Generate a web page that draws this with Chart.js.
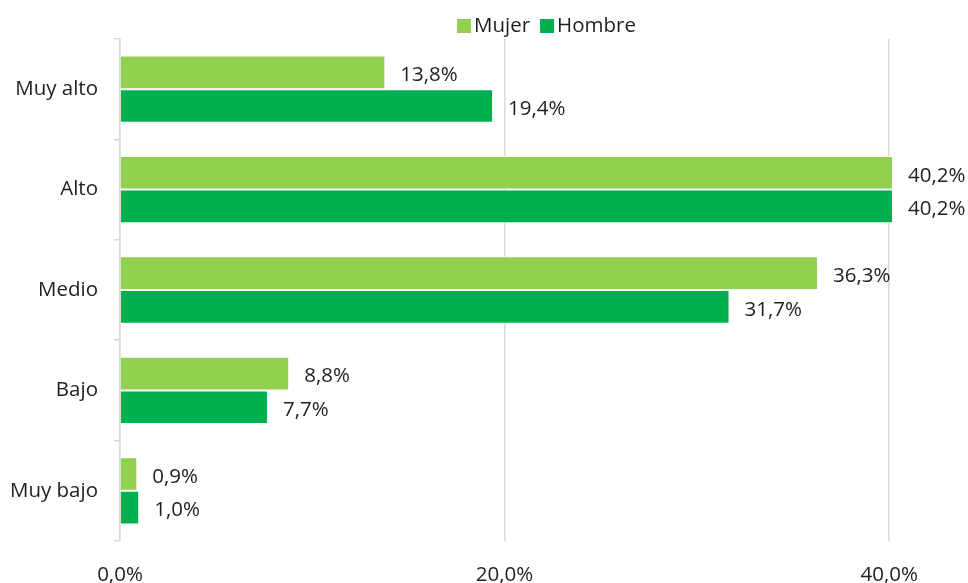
<!DOCTYPE html>
<html>
<head>
<meta charset="utf-8">
<script src="https://cdn.jsdelivr.net/npm/chart.js@4.4.1/dist/chart.umd.min.js"></script>
<style>
  html, body { margin: 0; padding: 0; background: #fff; }
  #wrap { width: 968px; height: 583px; }
</style>
</head>
<body>
<div id="wrap"><canvas id="chart" width="968" height="583"></canvas></div>
<script>
const categories = ["Muy alto", "Alto", "Medio", "Bajo", "Muy bajo"];
const seriesNames = ["Mujer", "Hombre"];
const mujer = [13.8, 40.2, 36.3, 8.8, 0.9];
const hombre = [19.4, 40.2, 31.7, 7.7, 1.0];
const xTicks = [0, 20, 40];
const colors = ["#92D050", "#00B050"];

const fontFamily = "'Open Sans', 'Noto Sans', sans-serif";
const textColor = "#1f1f1f";

function fmt(v) {
  return v.toFixed(1).replace(".", ",") + "%";
}

// value labels at the end of each bar
const barLabels = {
  id: "barLabels",
  afterDatasetsDraw(chart) {
    const ctx = chart.ctx;
    ctx.save();
    ctx.font = "20.5px " + fontFamily;
    ctx.fillStyle = textColor;
    ctx.textAlign = "left";
    ctx.textBaseline = "middle";
    chart.data.datasets.forEach((ds, i) => {
      const meta = chart.getDatasetMeta(i);
      meta.data.forEach((bar, j) => {
        ctx.fillText(fmt(ds.data[j]), bar.x + 15, bar.y + 3);
      });
    });
    ctx.restore();
  }
};

// legend drawn by hand so it can sit where the original has it
const topLegend = {
  id: "topLegend",
  afterDraw(chart) {
    const ctx = chart.ctx;
    ctx.save();
    ctx.font = "20.5px " + fontFamily;
    ctx.textBaseline = "middle";
    let x = 457;
    const y = 26;
    chart.data.datasets.forEach(ds => {
      ctx.fillStyle = ds.backgroundColor;
      ctx.fillRect(x, y - 7, 14, 14);
      ctx.fillStyle = textColor;
      ctx.fillText(ds.label, x + 17, y);
      x += 17 + ctx.measureText(ds.label).width + 10;
    });
    ctx.restore();
  }
};

new Chart(document.getElementById("chart"), {
  type: "bar",
  data: {
    labels: categories,
    datasets: [
      { label: seriesNames[0], data: mujer, backgroundColor: colors[0], borderColor: "#ffffff", borderWidth: 1 },
      { label: seriesNames[1], data: hombre, backgroundColor: colors[1], borderColor: "#ffffff", borderWidth: 1 }
    ]
  },
  options: {
    indexAxis: "y",
    responsive: false,
    animation: false,
    layout: { padding: { top: 39, left: 0, right: 0, bottom: 0 } },
    datasets: {
      bar: { categoryPercentage: 0.67, barPercentage: 1.0 }
    },
    plugins: {
      legend: { display: false },
      tooltip: { enabled: false }
    },
    scales: {
      x: {
        min: 0,
        max: 44.1,
        afterBuildTicks: axis => {
          axis.ticks = xTicks.map(v => ({ value: v }));
        },
        afterFit: axis => { axis.height = 42; },
        grid: { color: "#d9d9d9", lineWidth: 1.5, drawTicks: false },
        border: { display: false },
        ticks: {
          padding: 22,
          color: textColor,
          font: { family: fontFamily, size: 20.5 },
          callback: v => fmt(v)
        }
      },
      y: {
        afterFit: axis => { axis.width = 120; },
        grid: { drawOnChartArea: false, drawTicks: true, tickLength: 6, color: "#d9d9d9", lineWidth: 1.5, offset: true },
        border: { display: true, color: "#d9d9d9", width: 1.5 },
        ticks: {
          padding: 16,
          color: textColor,
          font: { family: fontFamily, size: 20.5 }
        }
      }
    }
  },
  plugins: [barLabels, topLegend]
});
</script>
</body>
</html>
